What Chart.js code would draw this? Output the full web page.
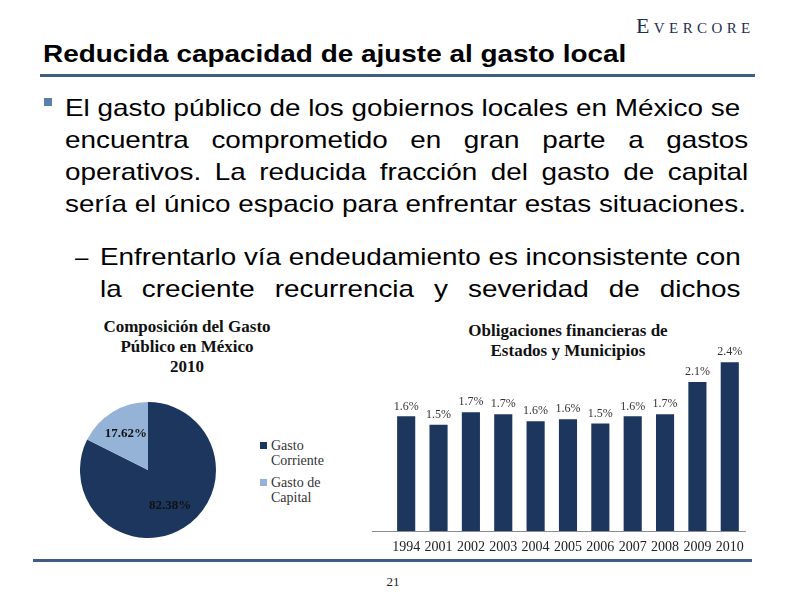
<!DOCTYPE html>
<html>
<head>
<meta charset="utf-8">
<script src="https://cdn.jsdelivr.net/npm/chart.js@4"></script>
<style>
  html, body { margin:0; padding:0; background:#fff; }
  body { width:792px; height:612px; position:relative; overflow:hidden; font-family:"Liberation Sans", Arial, sans-serif; }
  .abs { position:absolute; }
  #logo { left:636px; top:13px; font-family:"Liberation Serif", serif; font-size:22px; font-variant:small-caps; letter-spacing:4.4px; color:#1f2d54; white-space:nowrap; }
  #title { left:43px; top:40px; font-size:24px; font-weight:bold; color:#000; white-space:nowrap; transform:scaleX(1.163); transform-origin:0 0; }
  .rule { background:#3f5d84; height:3px; }
  .ln { position:absolute; font-size:24px; line-height:32px; height:32px; color:#000; white-space:nowrap; text-align:justify; text-align-last:justify; transform:scaleX(1.16); transform-origin:0 0; }
  .ln.last { text-align-last:left; }
  #b1 { left:44px; top:98px; width:8px; height:8px; background:#5b7fa6; }
  #dash { left:75px; top:241px; font-size:24px; line-height:32px; }
  .ctitle { font-family:"Liberation Serif", serif; font-weight:bold; font-size:17px; line-height:20px; text-align:center; color:#111; white-space:nowrap; }
  .white { background:#fff; }
  #legend { left:260px; top:438px; font-family:"Liberation Serif", serif; font-size:14px; line-height:15px; color:#333; }
  .li { position:relative; padding-left:11px; width:62px; margin-bottom:7px; }
  .sw { position:absolute; left:0; top:4px; width:7px; height:7px; }
  #pg { left:383px; top:574px; width:20px; text-align:center; font-family:"Liberation Serif", serif; font-size:13px; color:#222; }
</style>
</head>
<body>
<div id="logo" class="abs">Evercore</div>
<div id="title" class="abs">Reducida capacidad de ajuste al gasto local</div>
<div class="abs rule" style="left:40px;top:74px;width:715px;"></div>

<div id="b1" class="abs"></div>
<div class="ln" style="left:65px;top:92px;width:582px;">El gasto público de los gobiernos locales en México se</div>
<div class="ln" style="left:65px;top:124px;width:589px;">encuentra comprometido en gran parte a gastos</div>
<div class="ln" style="left:65px;top:156px;width:589px;">operativos. La reducida fracción del gasto de capital</div>
<div class="ln last" style="left:65px;top:188px;width:589px;">sería el único espacio para enfrentar estas situaciones.</div>
<div id="dash" class="abs">–</div>
<div class="ln" style="left:100px;top:241px;width:552px;">Enfrentarlo vía endeudamiento es inconsistente con</div>
<div class="ln" style="left:100px;top:273px;width:552px;">la creciente recurrencia y severidad de dichos</div>

<!-- chart images sit on white boxes like the slide -->
<div class="abs white" style="left:35px;top:310px;width:300px;height:248px;"></div>
<div class="abs white" style="left:360px;top:312px;width:395px;height:248px;"></div>

<div id="pieTitle" class="abs ctitle" style="left:87px;top:317px;width:200px;"></div>
<div class="abs" style="left:80px;top:402px;width:136px;height:136px;"><canvas id="pieChart"></canvas></div>
<div id="legend" class="abs"></div>

<div id="barTitle" class="abs ctitle" style="left:448px;top:321px;width:240px;"></div>
<div class="abs" style="left:372px;top:300px;width:380px;height:262px;"><canvas id="barChart"></canvas></div>

<div class="abs rule" style="left:33px;top:559px;width:719px;"></div>
<div id="pg" class="abs">21</div>

<script>
// pie: Composición del Gasto Público en México 2010
const pieTitleLines = ['Composición del Gasto', 'Público en México', '2010'];
const pieLabels = ['Gasto Corriente', 'Gasto de Capital'];
const pieValues = [82.38, 17.62];
const pieColors = ['#1c365e', '#95b3d7'];

// bars: Obligaciones financieras de Estados y Municipios
const barTitleLines = ['Obligaciones financieras de', 'Estados y Municipios'];
const years = ['1994','2001','2002','2003','2004','2005','2006','2007','2008','2009','2010'];
const debtValues = [1.63, 1.51, 1.69, 1.66, 1.56, 1.59, 1.53, 1.63, 1.66, 2.12, 2.40];
const debtLabels = ['1.6%','1.5%','1.7%','1.7%','1.6%','1.6%','1.5%','1.6%','1.7%','2.1%','2.4%'];
const barColor = '#1c365e';

const serif = '"Liberation Serif", "Times New Roman", serif';

document.getElementById('pieTitle').innerHTML = pieTitleLines.join('<br>');
document.getElementById('barTitle').innerHTML = barTitleLines.join('<br>');
document.getElementById('legend').innerHTML = pieLabels.map((l, i) =>
  `<div class="li"><span class="sw" style="background:${pieColors[i]}"></span>${l}</div>`).join('');

// percent labels inside slices
const pieLabelPlugin = {
  id: 'pieLabels',
  afterDatasetsDraw(chart) {
    const ctx = chart.ctx;
    const meta = chart.getDatasetMeta(0);
    ctx.save();
    ctx.font = 'bold 13px ' + serif;
    ctx.fillStyle = '#111';
    ctx.textAlign = 'center';
    ctx.textBaseline = 'middle';
    meta.data.forEach((arc, i) => {
      const mid = (arc.startAngle + arc.endAngle) / 2;
      const r = arc.outerRadius * 0.62;
      ctx.fillText(pieValues[i].toFixed(2) + '%', arc.x + Math.cos(mid) * r, arc.y + Math.sin(mid) * r);
    });
    ctx.restore();
  }
};

new Chart(document.getElementById('pieChart').getContext('2d'), {
  type: 'pie',
  data: { labels: pieLabels, datasets: [{ data: pieValues, backgroundColor: pieColors, borderWidth: 0 }] },
  options: {
    responsive: true, maintainAspectRatio: false, animation: false,
    layout: { padding: 0 },
    plugins: { legend: { display: false }, tooltip: { enabled: false } }
  },
  plugins: [pieLabelPlugin]
});

// baseline + value labels on top of bars
const barExtras = {
  id: 'barExtras',
  afterDatasetsDraw(chart) {
    const ctx = chart.ctx, area = chart.chartArea;
    ctx.save();
    ctx.strokeStyle = '#8c8c8c';
    ctx.lineWidth = 1;
    ctx.beginPath();
    ctx.moveTo(0, Math.round(area.bottom) + 0.5);
    ctx.lineTo(area.right, Math.round(area.bottom) + 0.5);
    ctx.stroke();
    ctx.font = '12px ' + serif;
    ctx.fillStyle = '#333';
    ctx.textAlign = 'center';
    ctx.textBaseline = 'bottom';
    chart.getDatasetMeta(0).data.forEach((bar, i) => {
      ctx.fillText(debtLabels[i], bar.x, bar.y - 4);
    });
    ctx.restore();
  }
};

new Chart(document.getElementById('barChart').getContext('2d'), {
  type: 'bar',
  data: { labels: years, datasets: [{ data: debtValues, backgroundColor: barColor, borderWidth: 0,
    categoryPercentage: 1, barPercentage: 0.56 }] },
  options: {
    responsive: true, maintainAspectRatio: false, animation: false,
    layout: { padding: { left: 18, right: 5, top: 20, bottom: 0 } },
    plugins: { legend: { display: false }, tooltip: { enabled: false } },
    scales: {
      x: {
        grid: { display: false, drawTicks: false }, border: { display: false },
        ticks: { font: { family: serif, size: 14 }, color: '#222', padding: 8, maxRotation: 0, autoSkip: false },
        afterFit: s => { s.height = 31; }
      },
      y: { display: false, min: 0, max: 3.0 }
    }
  },
  plugins: [barExtras]
});
</script>
</body>
</html>
